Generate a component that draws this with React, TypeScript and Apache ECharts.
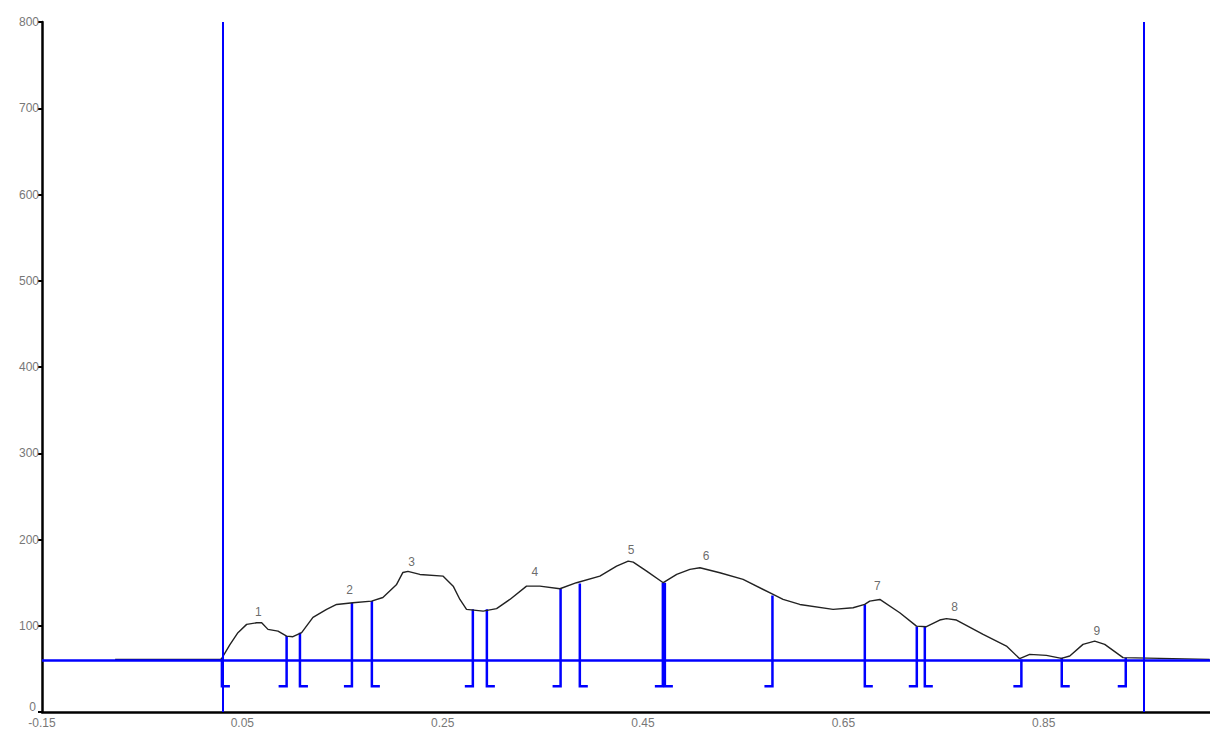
import React, { useEffect, useRef } from "react";
import * as echarts from "echarts";

// Profile curve (x in axis units, y in counts)
const profileX = [
  -0.077, 0.0286, 0.0293, 0.0376, 0.0456, 0.0543, 0.0643, 0.0693, 0.0756, 0.0856, 0.0942, 0.1005, 0.1092,
  0.1205, 0.1341, 0.1441, 0.1604, 0.179, 0.1903, 0.204, 0.2103, 0.2153, 0.2272, 0.2505, 0.2605, 0.2672,
  0.2738, 0.2904, 0.3038, 0.3171, 0.3337, 0.347, 0.367, 0.3836, 0.4069, 0.4236, 0.4352, 0.4402, 0.4536,
  0.4702, 0.4836, 0.4968, 0.5068, 0.5267, 0.5499, 0.5799, 0.5898, 0.6065, 0.6397, 0.6597, 0.6713, 0.6763,
  0.6864, 0.7063, 0.723, 0.7329, 0.7462, 0.7529, 0.7629, 0.7895, 0.8128, 0.826, 0.836, 0.8527, 0.8677,
  0.876, 0.8892, 0.9009, 0.9109, 0.9292, 1.0157,
];
const profileY = [
  61, 61, 62, 78, 92, 101.6, 103.5, 103.5, 95.8, 93.8, 88, 87.3, 92,
  109.7, 119, 124.7, 126.7, 128.6, 132.8, 147.9, 161.8, 163, 159.5, 157.5, 145.9, 130.5,
  119, 117, 119.8, 130.5, 145.9, 145.9, 142.9, 149.9, 157.5, 169.1, 174.9, 173.7, 163.3,
  149.9, 159.5, 165.3, 167.2, 161.5, 153.7, 136.3, 130.5, 124.7, 119, 120.9, 124.7, 128.6,
  130.5, 115.1, 99.6, 98.9, 106.6, 108.2, 106.6, 90, 76.4, 61.8, 66.8, 65.7, 62.2,
  64.9, 78.4, 82.2, 78.4, 63, 61,
];

// Drop lines: x position, top value, foot side (-1 left, 1 right)
const dropX = [0.0296, 0.0942, 0.1075, 0.1594, 0.1793, 0.2801, 0.2941, 0.3677, 0.3869, 0.4698, 0.4718, 0.5792, 0.6714, 0.7233, 0.7313, 0.8277, 0.868, 0.9319];
const dropTop = [62, 88, 92, 126.8, 128.6, 119, 119, 143.3, 149, 150, 150, 135, 124.7, 99, 99, 61, 63, 63];
const dropSide = [1, -1, 1, -1, 1, -1, 1, -1, 1, -1, 1, -1, 1, -1, 1, -1, 1, -1];
const dropBottom = 30;
const footLen = 0.008;

// Peak labels
const peakNames = ["1", "2", "3", "4", "5", "6", "7", "8", "9"];
const peakX = [0.066, 0.157, 0.219, 0.342, 0.438, 0.513, 0.684, 0.761, 0.903];
const peakY = [115.5, 141, 173.4, 161.8, 187.3, 180.3, 145.6, 121.3, 93.5];

// Markers
const verticalMarks = [0.0286, 0.9498];
const baselineValue = 60;

// Axes
const xMin = -0.15;
const xMax = 1.016;
const xStep = 0.2;
const yMin = 0;
const yMax = 800;
const yStep = 100;

export default function App() {
  const ref = useRef<HTMLDivElement>(null);

  useEffect(() => {
    document.body.style.margin = "0";
    if (!ref.current) return;
    const chart = echarts.init(ref.current, undefined, { renderer: "svg" });

    const profileData = profileX.map((x, i) => [x, profileY[i]]);
    const dropData = dropX.map((x, i) => [x, dropTop[i], dropSide[i]]);
    const peakData = peakX.map((x, i) => [x, peakY[i], peakNames[i]]);
    const font = "Liberation Sans, Arial, sans-serif";

    chart.setOption({
      animation: false,
      backgroundColor: "#ffffff",
      grid: { left: 42, right: 0, top: 22, bottom: 20, containLabel: false, outerBoundsMode: "none" },
      xAxis: {
        type: "value",
        min: xMin,
        max: xMax,
        interval: xStep,
        axisLine: { show: true, onZero: false, lineStyle: { color: "#000", width: 2.5 } },
        axisTick: { show: false },
        splitLine: { show: false },
        axisLabel: {
          color: "#777",
          fontSize: 12,
          fontFamily: font,
          margin: 5,
          showMaxLabel: false,
          formatter: (v: number) => v.toFixed(2),
        },
      },
      yAxis: {
        type: "value",
        min: yMin,
        max: yMax,
        interval: yStep,
        axisLine: { show: true, onZero: false, lineStyle: { color: "#000", width: 2.5 } },
        axisTick: { show: true, length: 4, lineStyle: { color: "#000", width: 2 } },
        splitLine: { show: false },
        axisLabel: {
          color: "#777",
          fontSize: 12,
          fontFamily: font,
          margin: 3,
          formatter: (v: number) => (v === 0 ? "{z|0}" : String(v)),
          rich: {
            z: { color: "#777", fontSize: 12, fontFamily: font, padding: [0, 3, 10, 0] },
          },
        },
      },
      series: [
        {
          type: "line",
          data: [],
          z: 1,
          markLine: {
            symbol: "none",
            silent: true,
            label: { show: false },
            lineStyle: { color: "#0000ff", width: 2, type: "solid" },
            data: [
              ...verticalMarks.map((v) => ({ xAxis: v })),
              { yAxis: baselineValue, lineStyle: { width: 2.5 } },
            ],
          },
        },
        {
          type: "custom",
          z: 2,
          clip: false,
          encode: { x: 0, y: 1 },
          data: dropData,
          renderItem: (params: any, api: any) => {
            const x = api.value(0);
            const top = api.value(1);
            const side = api.value(2);
            const p1 = api.coord([x, top]);
            const p2 = api.coord([x, dropBottom]);
            const p3 = api.coord([x + side * footLen, dropBottom]);
            return {
              type: "polyline",
              shape: { points: [p1, p2, p3] },
              style: { stroke: "#0000ff", lineWidth: 2.5, fill: null },
            };
          },
        },
        {
          type: "line",
          z: 3,
          data: profileData,
          showSymbol: false,
          symbol: "none",
          lineStyle: { color: "#222", width: 1.4 },
        },
        {
          type: "scatter",
          z: 4,
          data: peakData,
          symbolSize: 1,
          itemStyle: { color: "transparent" },
          label: {
            show: true,
            position: "inside",
            color: "#444",
            fontSize: 12,
            fontFamily: font,
            formatter: (p: any) => p.data[2],
          },
        },
      ],
    });

    return () => chart.dispose();
  }, []);

  return <div ref={ref} style={{ width: 1210, height: 732 }} />;
}
